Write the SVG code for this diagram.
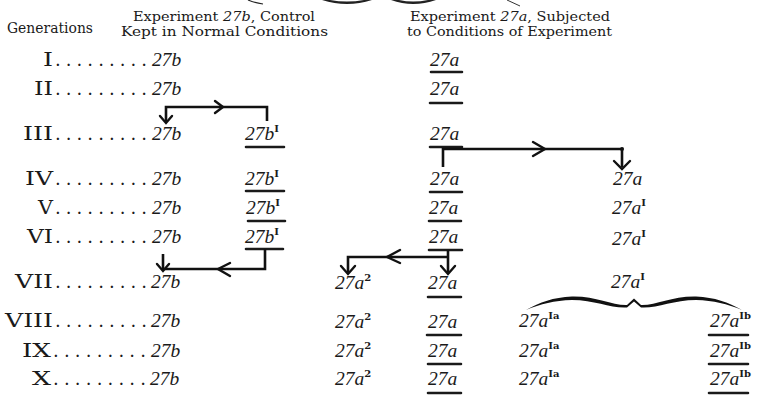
<svg xmlns="http://www.w3.org/2000/svg" width="763" height="395" viewBox="0 0 763 395">
<style>
text{fill:#1a1a1a}
.hd{font-family:"DejaVu Serif","Liberation Serif",serif;font-size:12.5px}
.gen{font-family:"DejaVu Serif","Liberation Serif",serif;font-size:14px}
.rn{font-family:"DejaVu Serif","Liberation Serif",serif;font-size:18px;text-anchor:end}
.dots{font-family:"DejaVu Serif","Liberation Serif",serif;font-size:18px}
.it{font-family:"Liberation Serif",serif;font-style:italic;font-size:19.5px}
.sup{font-family:"DejaVu Serif","Liberation Serif",serif;font-style:normal;font-size:10px;font-weight:bold}
.ul{stroke:#1a1a1a;stroke-width:2.6;stroke-linecap:round;fill:none}
.cn{stroke:#111;stroke-width:2.6;fill:none;stroke-linejoin:miter;stroke-linecap:butt}
.hdl{stroke:#111;stroke-width:2.4;fill:none;stroke-linecap:round;stroke-linejoin:miter}
</style>

<g id="fragments">
<path d="M248,0 Q255,3 263,4" stroke="#222" stroke-width="1.2" fill="none"/>
<path d="M322,0 Q347,8 372,0 L364,0 Q347,3 330,0 Z" fill="#222"/>
<path d="M391,0 Q413,8 436,0 L428,0 Q413,3 399,0 Z" fill="#222"/>
<path d="M507,0 L520,6" stroke="#333" stroke-width="1" fill="none"/>
</g>

<g id="header">
<text class="gen" x="7" y="33" textLength="86" lengthAdjust="spacingAndGlyphs">Generations</text>
<text class="hd" x="133" y="21" textLength="182" lengthAdjust="spacingAndGlyphs">Experiment <tspan font-style="italic">27b</tspan>, Control</text>
<text class="hd" x="121" y="36" textLength="207" lengthAdjust="spacingAndGlyphs">Kept in Normal Conditions</text>
<text class="hd" x="410" y="21" textLength="200" lengthAdjust="spacingAndGlyphs">Experiment <tspan font-style="italic">27a</tspan>, Subjected</text>
<text class="hd" x="407" y="36" textLength="205" lengthAdjust="spacingAndGlyphs">to Conditions of Experiment</text>
</g>

<g id="generations">
<text class="rn" x="53" y="66" textLength="10" lengthAdjust="spacingAndGlyphs">I</text>
<text class="rn" x="53" y="95" textLength="19" lengthAdjust="spacingAndGlyphs">II</text>
<text class="rn" x="53" y="140" textLength="30" lengthAdjust="spacingAndGlyphs">III</text>
<text class="rn" x="53" y="185" textLength="28" lengthAdjust="spacingAndGlyphs">IV</text>
<text class="rn" x="53" y="214" textLength="15" lengthAdjust="spacingAndGlyphs">V</text>
<text class="rn" x="53" y="243" textLength="26" lengthAdjust="spacingAndGlyphs">VI</text>
<text class="rn" x="53" y="288" textLength="38" lengthAdjust="spacingAndGlyphs">VII</text>
<text class="rn" x="53" y="327" textLength="48" lengthAdjust="spacingAndGlyphs">VIII</text>
<text class="rn" x="51" y="357" textLength="29" lengthAdjust="spacingAndGlyphs">IX</text>
<text class="rn" x="51" y="385" textLength="19" lengthAdjust="spacingAndGlyphs">X</text>
<text class="dots" x="55" y="66" textLength="92">.........</text>
<text class="dots" x="55" y="95" textLength="92">.........</text>
<text class="dots" x="55" y="140" textLength="92">.........</text>
<text class="dots" x="55" y="185" textLength="92">.........</text>
<text class="dots" x="55" y="214" textLength="92">.........</text>
<text class="dots" x="55" y="243" textLength="92">.........</text>
<text class="dots" x="55" y="288" textLength="92">.........</text>
<text class="dots" x="55" y="327" textLength="92">.........</text>
<text class="dots" x="53" y="357" textLength="93">.........</text>
<text class="dots" x="53" y="385" textLength="93">.........</text>
</g>

<g id="control-27b">
<text class="it" x="152" y="66">27b</text>
<text class="it" x="152" y="95">27b</text>
<text class="it" x="152" y="140">27b</text>
<text class="it" x="152" y="185">27b</text>
<text class="it" x="152" y="214">27b</text>
<text class="it" x="152" y="243">27b</text>
<text class="it" x="151" y="288">27b</text>
<text class="it" x="151" y="327">27b</text>
<text class="it" x="151" y="357">27b</text>
<text class="it" x="150" y="385">27b</text>
</g>

<g id="control-27bI">
<text class="it" x="245" y="140">27b<tspan class="sup" dy="-8">I</tspan></text>
<text class="it" x="245" y="185">27b<tspan class="sup" dy="-8">I</tspan></text>
<text class="it" x="246" y="214">27b<tspan class="sup" dy="-8">I</tspan></text>
<text class="it" x="245" y="243">27b<tspan class="sup" dy="-8">I</tspan></text>
<path class="ul" d="M246,147 H284 M246,191 H284 M248,221 H285 M246,249 H283"/>
</g>

<g id="exp-27a">
<text class="it" x="430" y="66">27a</text>
<text class="it" x="430" y="95">27a</text>
<text class="it" x="430" y="140">27a</text>
<text class="it" x="430" y="185">27a</text>
<text class="it" x="429" y="214">27a</text>
<text class="it" x="429" y="243">27a</text>
<text class="it" x="428" y="289">27a</text>
<text class="it" x="428" y="328">27a</text>
<text class="it" x="428" y="357">27a</text>
<text class="it" x="428" y="385">27a</text>
<path class="ul" d="M431,72 H462 M430,103 H462 M430,147 H462 M430,192 H462 M429,221 H461 M429,250 H462 M428,297 H461 M427,335 H461 M428,364 H461 M428,393 H461"/>
</g>

<g id="exp-27a2">
<text class="it" x="335" y="289">27a<tspan class="sup" dy="-8">2</tspan></text>
<text class="it" x="335" y="328">27a<tspan class="sup" dy="-8">2</tspan></text>
<text class="it" x="335" y="357">27a<tspan class="sup" dy="-8">2</tspan></text>
<text class="it" x="335" y="385">27a<tspan class="sup" dy="-8">2</tspan></text>
</g>

<g id="exp-27aI">
<text class="it" x="613" y="185">27a</text>
<text class="it" x="612" y="214">27a<tspan class="sup" dy="-8">I</tspan></text>
<text class="it" x="612" y="245">27a<tspan class="sup" dy="-8">I</tspan></text>
<text class="it" x="611" y="288">27a<tspan class="sup" dy="-8">I</tspan></text>
</g>

<g id="exp-27aIa">
<text class="it" x="519" y="327">27a<tspan class="sup" dy="-8">Ia</tspan></text>
<text class="it" x="519" y="357">27a<tspan class="sup" dy="-8">Ia</tspan></text>
<text class="it" x="519" y="385">27a<tspan class="sup" dy="-8">Ia</tspan></text>
</g>

<g id="exp-27aIb">
<text class="it" x="710" y="327">27a<tspan class="sup" dy="-8">Ib</tspan></text>
<text class="it" x="710" y="357">27a<tspan class="sup" dy="-8">Ib</tspan></text>
<text class="it" x="710" y="385">27a<tspan class="sup" dy="-8">Ib</tspan></text>
<path class="ul" d="M709,335 H748 M709,364 H748 M709,393 H748"/>
</g>

<g id="brace">
<path d="M526,310 C540,302 553,297.5 572,296.5 C596,296 612,305.5 627,305 L634,298.5 L641,305 C656,305.5 672,296 696,296.5 C715,297.5 728,302 742,310 C727,304 714,300.5 696,300 C673,300 657,308.5 641,307.5 L634,301.5 L627,307.5 C611,308.5 595,300 572,300 C554,300.5 541,304 526,310 Z" fill="#111"/>
</g>

<g id="connectors">
<path class="cn" d="M166,121 V107 H267 V121"/>
<path class="hdl" d="M215,101 L223,107 L215,113"/>
<path class="hdl" d="M160,116 L166,123 L172,116"/>

<path class="cn" d="M265,249 V269 H163"/>
<path class="cn" d="M163,254 V270"/>
<path class="hdl" d="M230,263 L218,269 L230,276"/>
<path class="hdl" d="M157,264 L163,271 L169,264"/>

<path class="cn" d="M443,167 V149 H622 V167"/>
<circle cx="622" cy="149" r="2" fill="#111"/>
<path class="hdl" d="M533,142 L545,149 L533,156"/>
<path class="hdl" d="M614,161 L622,169 L630,161"/>

<path class="cn" d="M448,250 V272 M448,257 H348 V272"/>
<path class="hdl" d="M441,266 L448,274 L455,266"/>
<path class="hdl" d="M341,266 L348,274 L355,266"/>
<path class="hdl" d="M400,250 L387,257 L400,263"/>
</g>
</svg>
